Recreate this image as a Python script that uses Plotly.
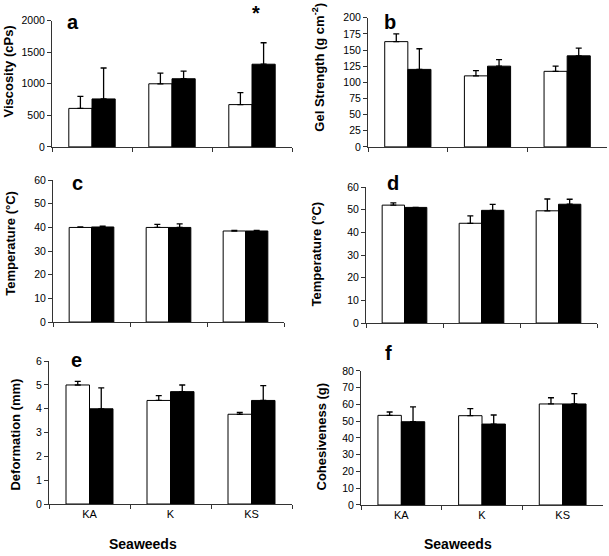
import plotly.graph_objects as go

W, H = 609, 556

categories = ["KA", "K", "KS"]

visc_white = [610, 1000, 670]
visc_white_err = [190, 170, 190]
visc_black = [760, 1080, 1310]
visc_black_err = [490, 120, 340]

gel_white = [163, 110, 117]
gel_white_err = [12, 8, 8]
gel_black = [120, 125, 141]
gel_black_err = [32, 10, 12]

tempc_white = [40.0, 40.0, 38.5]
tempc_white_err = [0.2, 1.3, 0.3]
tempc_black = [40.2, 40.0, 38.5]
tempc_black_err = [0.4, 1.5, 0.3]

tempd_white = [52.0, 44.0, 49.5]
tempd_white_err = [1.0, 3.3, 5.2]
tempd_black = [51.0, 49.7, 52.4]
tempd_black_err = [0.0, 2.6, 2.2]

deform_white = [5.0, 4.35, 3.77]
deform_white_err = [0.15, 0.2, 0.08]
deform_black = [4.0, 4.72, 4.35]
deform_black_err = [0.88, 0.28, 0.62]

cohes_white = [53.5, 53.3, 60.3]
cohes_white_err = [2.0, 4.2, 3.7]
cohes_black = [49.7, 48.3, 60.3]
cohes_black_err = [8.8, 5.4, 6.2]

panels = [
    ("a", visc_white, visc_white_err, visc_black, visc_black_err, 2000, 500, "Viscosity (cPs)",
     (52, 292), (15, 144), (9, 67), (73, 16), False),
    ("b", gel_white, gel_white_err, gel_black, gel_black_err, 200, 25, "Gel Strength (g cm<sup>-2</sup>)",
     (368, 607), (12, 144), (318, 63), (390, 16), False),
    ("c", tempc_white, tempc_white_err, tempc_black, tempc_black_err, 60, 10, "Temperature (°C)",
     (53, 284), (178, 323), (11, 243), (77, 181), False),
    ("d", tempd_white, tempd_white_err, tempd_black, tempd_black_err, 60, 10, "Temperature (°C)",
     (366, 597), (185, 324), (317, 254), (393, 181), False),
    ("e", deform_white, deform_white_err, deform_black, deform_black_err, 6, 1, "Deformation (mm)",
     (49, 292), (363, 509), (16, 438), (76, 362), True),
    ("f", cohes_white, cohes_white_err, cohes_black, cohes_black_err, 80, 10, "Cohesiveness (g)",
     (361, 603), (373, 510), (322, 440), (388, 355), True),
]

fig = go.Figure()
annotations = []
FONT = "Liberation Sans, Arial, sans-serif"

for i, (letter, wv, we, bv, be, ymax, dt, ytitle, xpx, ypx, tpos, lpos, showx) in enumerate(panels):
    n = i + 1
    xa = "x" if n == 1 else f"x{n}"
    ya = "y" if n == 1 else f"y{n}"
    for vals, errs, fill in ((wv, we, "white"), (bv, be, "black")):
        fig.add_trace(go.Bar(
            x=categories, y=vals, xaxis=xa, yaxis=ya,
            marker=dict(color=fill, line=dict(color="black", width=1)),
            error_y=dict(type="data", symmetric=False, array=errs, arrayminus=[0] * len(errs),
                         color="black", thickness=1.3, width=3),
            showlegend=False, cliponaxis=False,
        ))
    xkey = "xaxis" if n == 1 else f"xaxis{n}"
    ykey = "yaxis" if n == 1 else f"yaxis{n}"
    fig.layout[xkey] = dict(
        domain=[xpx[0] / W, xpx[1] / W], anchor=ya, type="category",
        range=[-0.5, 2.5], showline=True, linecolor="#333", linewidth=1,
        ticks="outside", ticklen=4, tickcolor="#333", tickson="boundaries",
        showticklabels=showx, showgrid=False, zeroline=False,
        tickfont=dict(family=FONT, size=11, color="black"),
    )
    fig.layout[ykey] = dict(
        domain=[1 - ypx[1] / H, 1 - ypx[0] / H], anchor=xa,
        range=[0, ymax], dtick=dt, showline=True, linecolor="#333", linewidth=1,
        ticks="outside", ticklen=4, tickcolor="#333", showgrid=False, zeroline=False,
        tickfont=dict(family=FONT, size=10.5, color="black"),
    )
    annotations.append(dict(
        text=ytitle, x=tpos[0] / W, y=1 - tpos[1] / H, xref="paper", yref="paper",
        textangle=-90, showarrow=False, xanchor="center", yanchor="middle",
        font=dict(family=FONT, size=13, color="black", weight="bold"),
    ))
    annotations.append(dict(
        text=letter, x=lpos[0] / W, y=1 - lpos[1] / H, xref="paper", yref="paper",
        showarrow=False, xanchor="center", yanchor="middle",
        font=dict(family=FONT, size=20, color="black", weight="bold"),
    ))
    if showx:
        cx = 143 if letter == "e" else 458
        annotations.append(dict(
            text="Seaweeds", x=cx / W, y=1 - 550 / H, xref="paper", yref="paper",
            showarrow=False, xanchor="center", yanchor="middle",
            font=dict(family=FONT, size=14, color="black", weight="bold"),
        ))

annotations.append(dict(
    text="*", x="KS", y=2000, xref="x", yref="y", xshift=4, yshift=8,
    showarrow=False, xanchor="center", yanchor="middle",
    font=dict(family=FONT, size=20, color="black", weight="bold"),
))

fig.update_layout(
    width=W, height=H, margin=dict(l=0, r=0, t=0, b=0),
    paper_bgcolor="white", plot_bgcolor="white",
    barmode="group", bargap=0.42, bargroupgap=0,
    annotations=annotations,
    font=dict(family=FONT, color="black"),
)

fig.write_html(
    "out.html",
    config={"displayModeBar": False},
    post_script=(
        "document.body.style.margin='0';"
        "document.body.style.overflow='hidden';"
        "document.documentElement.style.overflow='hidden';"
    ),
)
